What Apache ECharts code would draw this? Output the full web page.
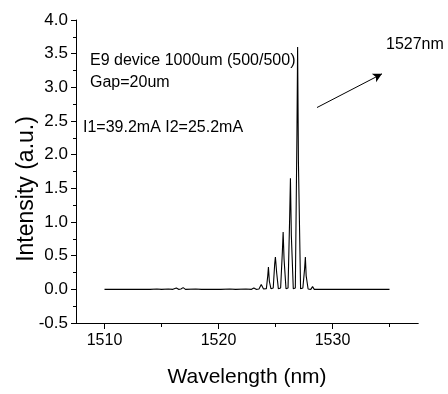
<!DOCTYPE html>
<html>
<head>
<meta charset="utf-8">
<script src="https://cdn.jsdelivr.net/npm/echarts@6/dist/echarts.min.js"></script>
<style>
html,body{margin:0;padding:0;background:#fff;}
#chart{width:448px;height:394px;}
</style>
</head>
<body>
<div id="chart"></div>
<script>
// ---- data ----
const wavelength = [
  1510.0, 1514.0, 1514.6, 1515.0, 1515.6, 1516.0, 1516.3, 1516.5, 1516.7, 1516.9,
  1517.1, 1518.0, 1518.5, 1519.9, 1520.05, 1520.2, 1521.0, 1521.5, 1522.4, 1522.9,
  1523.1, 1523.3, 1523.55, 1523.75, 1523.95, 1524.2, 1524.32, 1524.38, 1524.46, 1524.6,
  1524.8, 1524.93, 1524.99, 1525.03, 1525.1, 1525.25, 1525.45, 1525.6, 1525.67, 1525.75,
  1525.92, 1526.1, 1526.24, 1526.31, 1526.39, 1526.56, 1526.74, 1526.88, 1526.94, 1527.01,
  1527.2, 1527.4, 1527.55, 1527.62, 1527.69, 1527.86, 1528.1, 1528.25, 1528.4, 1529.5,
  1535.0
];
const intensity = [
  0, 0, 0.005, 0, 0.006, 0, 0.02, 0, 0.005, 0.025,
  0, 0.004, 0, 0, 0.02, 0, 0.004, 0, 0.004, 0,
  0.02, 0, 0.005, 0.07, 0.005, 0.01, 0.2, 0.33, 0.12, 0.01,
  0.02, 0.38, 0.48, 0.4, 0.25, 0.01, 0.02, 0.55, 0.85, 0.45,
  0.01, 0.02, 1.05, 1.65, 0.8, 0.01, 0.02, 2.3, 3.6, 1.9,
  0.01, 0.02, 0.3, 0.48, 0.2, 0.005, 0, 0.04, 0, 0,
  0
];
const xMajorTicks = [1510, 1520, 1530];
const xMinorTicks = [1515, 1525, 1535];
const arrowStart = [1528.64, 2.70];
const arrowEnd = [1534.34, 3.20];
const notes = ["E9 device 1000um (500/500)", "Gap=20um", "I1=39.2mA I2=25.2mA", "1527nm"];
const xTitle = "Wavelength (nm)";
const yTitle = "Intensity (a.u.)";

const seriesData = wavelength.map((w, i) => [w, intensity[i]]);
const FONT = "Liberation Sans, Arial, sans-serif";

const chart = echarts.init(document.getElementById('chart'), null, {renderer: 'canvas'});
chart.setOption({
  animation: false,
  backgroundColor: '#fff',
  grid: {left: 76, right: 30, top: 20, bottom: 71},
  xAxis: [{
    type: 'value', min: 1507.5, max: 1537.5, position: 'bottom', offset: 0,
    axisLine: {show: true, onZero: false, lineStyle: {color: '#000', width: 1}},
    axisTick: {show: true, inside: false, customValues: xMajorTicks, length: 6, lineStyle: {color: '#000'}},
    axisLabel: {show: true, customValues: xMajorTicks, margin: 10, color: '#000', fontSize: 16, fontFamily: FONT,
      formatter: v => String(v)},
    splitLine: {show: false}
  }, {
    type: 'value', min: 1507.5, max: 1537.5, position: 'bottom', offset: 0,
    axisLine: {show: true, onZero: false, lineStyle: {color: '#000', width: 1}},
    axisTick: {show: true, inside: false, customValues: xMinorTicks, length: 4, lineStyle: {color: '#000'}},
    axisLabel: {show: false},
    splitLine: {show: false}
  }],
  yAxis: {
    type: 'value', min: -0.5, max: 4.0, interval: 0.5,
    axisLine: {show: true, onZero: false, lineStyle: {color: '#000', width: 1}},
    axisTick: {show: true, length: 5, lineStyle: {color: '#000'}},
    minorTick: {show: true, splitNumber: 2, length: 3, lineStyle: {color: '#000'}},
    axisLabel: {margin: 8, color: '#000', fontSize: 17, fontFamily: FONT,
      formatter: v => v.toFixed(1)},
    splitLine: {show: false}
  },
  series: [{
    type: 'line', xAxisIndex: 0, yAxisIndex: 0,
    data: seriesData, showSymbol: false, symbol: 'none',
    lineStyle: {color: '#000', width: 1.1},
    markLine: {
      silent: true, symbol: ['none', 'arrow'], symbolSize: [7, 9],
      label: {show: false},
      lineStyle: {color: '#000', width: 1, type: 'solid'},
      data: [[{coord: arrowStart}, {coord: arrowEnd}]]
    }
  }],
  graphic: [
    {type: 'text', left: 90, top: 53, style: {text: notes[0], font: '16px ' + FONT, fill: '#000'}},
    {type: 'text', left: 90, top: 75, style: {text: notes[1], font: '16px ' + FONT, fill: '#000'}},
    {type: 'text', left: 83, top: 120, style: {text: notes[2], font: '16px ' + FONT, fill: '#000'}},
    {type: 'text', left: 386, top: 37, style: {text: notes[3], font: '16px ' + FONT, fill: '#000'}},
    {type: 'text', x: 247, y: 377, style: {text: xTitle, font: '21px ' + FONT, fill: '#000', textAlign: 'center', textVerticalAlign: 'middle'}},
    {type: 'text', x: 27, y: 189, rotation: Math.PI / 2, style: {text: yTitle, font: '23px ' + FONT, fill: '#000', textAlign: 'center', textVerticalAlign: 'middle'}}
  ]
});
</script>
</body>
</html>
